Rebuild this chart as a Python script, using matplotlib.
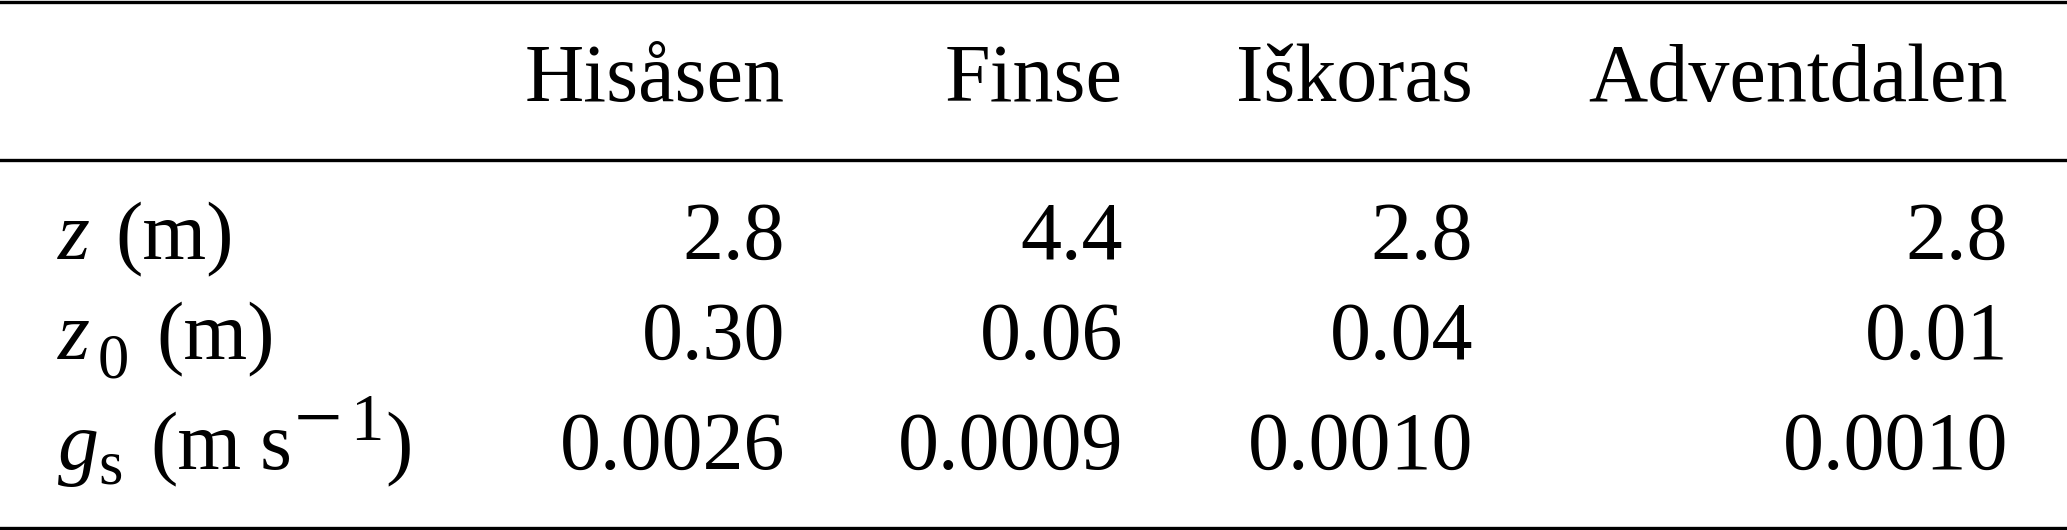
import matplotlib
matplotlib.use("Agg")
import matplotlib.pyplot as plt
from matplotlib.lines import Line2D

plt.rcParams['font.family'] = ['Liberation Serif', 'DejaVu Serif']

sites = ["Hisåsen", "Finse", "Iškoras", "Adventdalen"]
# row labels are composed of: italic symbol, subscript, unit
row_symbols = ["z", "z", "g"]
row_subscripts = ["", "0", "s"]
z_vals = ["2.8", "4.4", "2.8", "2.8"]
z0_vals = ["0.30", "0.06", "0.04", "0.01"]
gs_vals = ["0.0026", "0.0009", "0.0010", "0.0010"]
rows = [z_vals, z0_vals, gs_vals]

W, H = 2067, 530
fig = plt.figure(figsize=(W / 100, H / 100), dpi=100)

def fx(px):
    return px / W

def fy(py):
    return 1 - py / H

def txt(x, y, s, ha='left', size=59, style='normal'):
    fig.text(fx(x), fy(y), s, ha=ha, va='baseline', fontsize=size, fontstyle=style)

fs = 59
sub_fs = 45
col_right = [785, 1123, 1473, 2008]
header_base = 101
row_base = [259, 359, 469]
label_left = 58

# column headers
for x, name in zip(col_right, sites):
    txt(x, header_base, name, ha='right', size=fs)

# values
for yb, vals in zip(row_base, rows):
    for x, v in zip(col_right, vals):
        txt(x, yb, v, ha='right', size=fs)

# row 1: z (m)
txt(label_left, row_base[0], row_symbols[0], style='italic')
txt(115, row_base[0], "(m)")
# row 2: z_0 (m)
txt(label_left, row_base[1], row_symbols[1], style='italic')
txt(98, row_base[1] + 19, row_subscripts[1], size=sub_fs)
txt(156, row_base[1], "(m)")
# row 3: g_s (m s^-1)
txt(label_left, row_base[2], row_symbols[2], style='italic')
txt(98, row_base[2] + 14, row_subscripts[2], size=sub_fs)
txt(150, row_base[2], "(m")
txt(260, row_base[2], "s")
txt(294, row_base[2] - 23, "\u2212", size=62)
txt(350, row_base[2] - 29, "1", size=48)
txt(385, row_base[2], ")")

# booktabs-style rules
for yl in [2, 160, 527.5]:
    fig.add_artist(Line2D([0, 1], [fy(yl), fy(yl)], color='black', lw=2.4,
                          transform=fig.transFigure))

fig.savefig("out.png", dpi=100, facecolor='white')
